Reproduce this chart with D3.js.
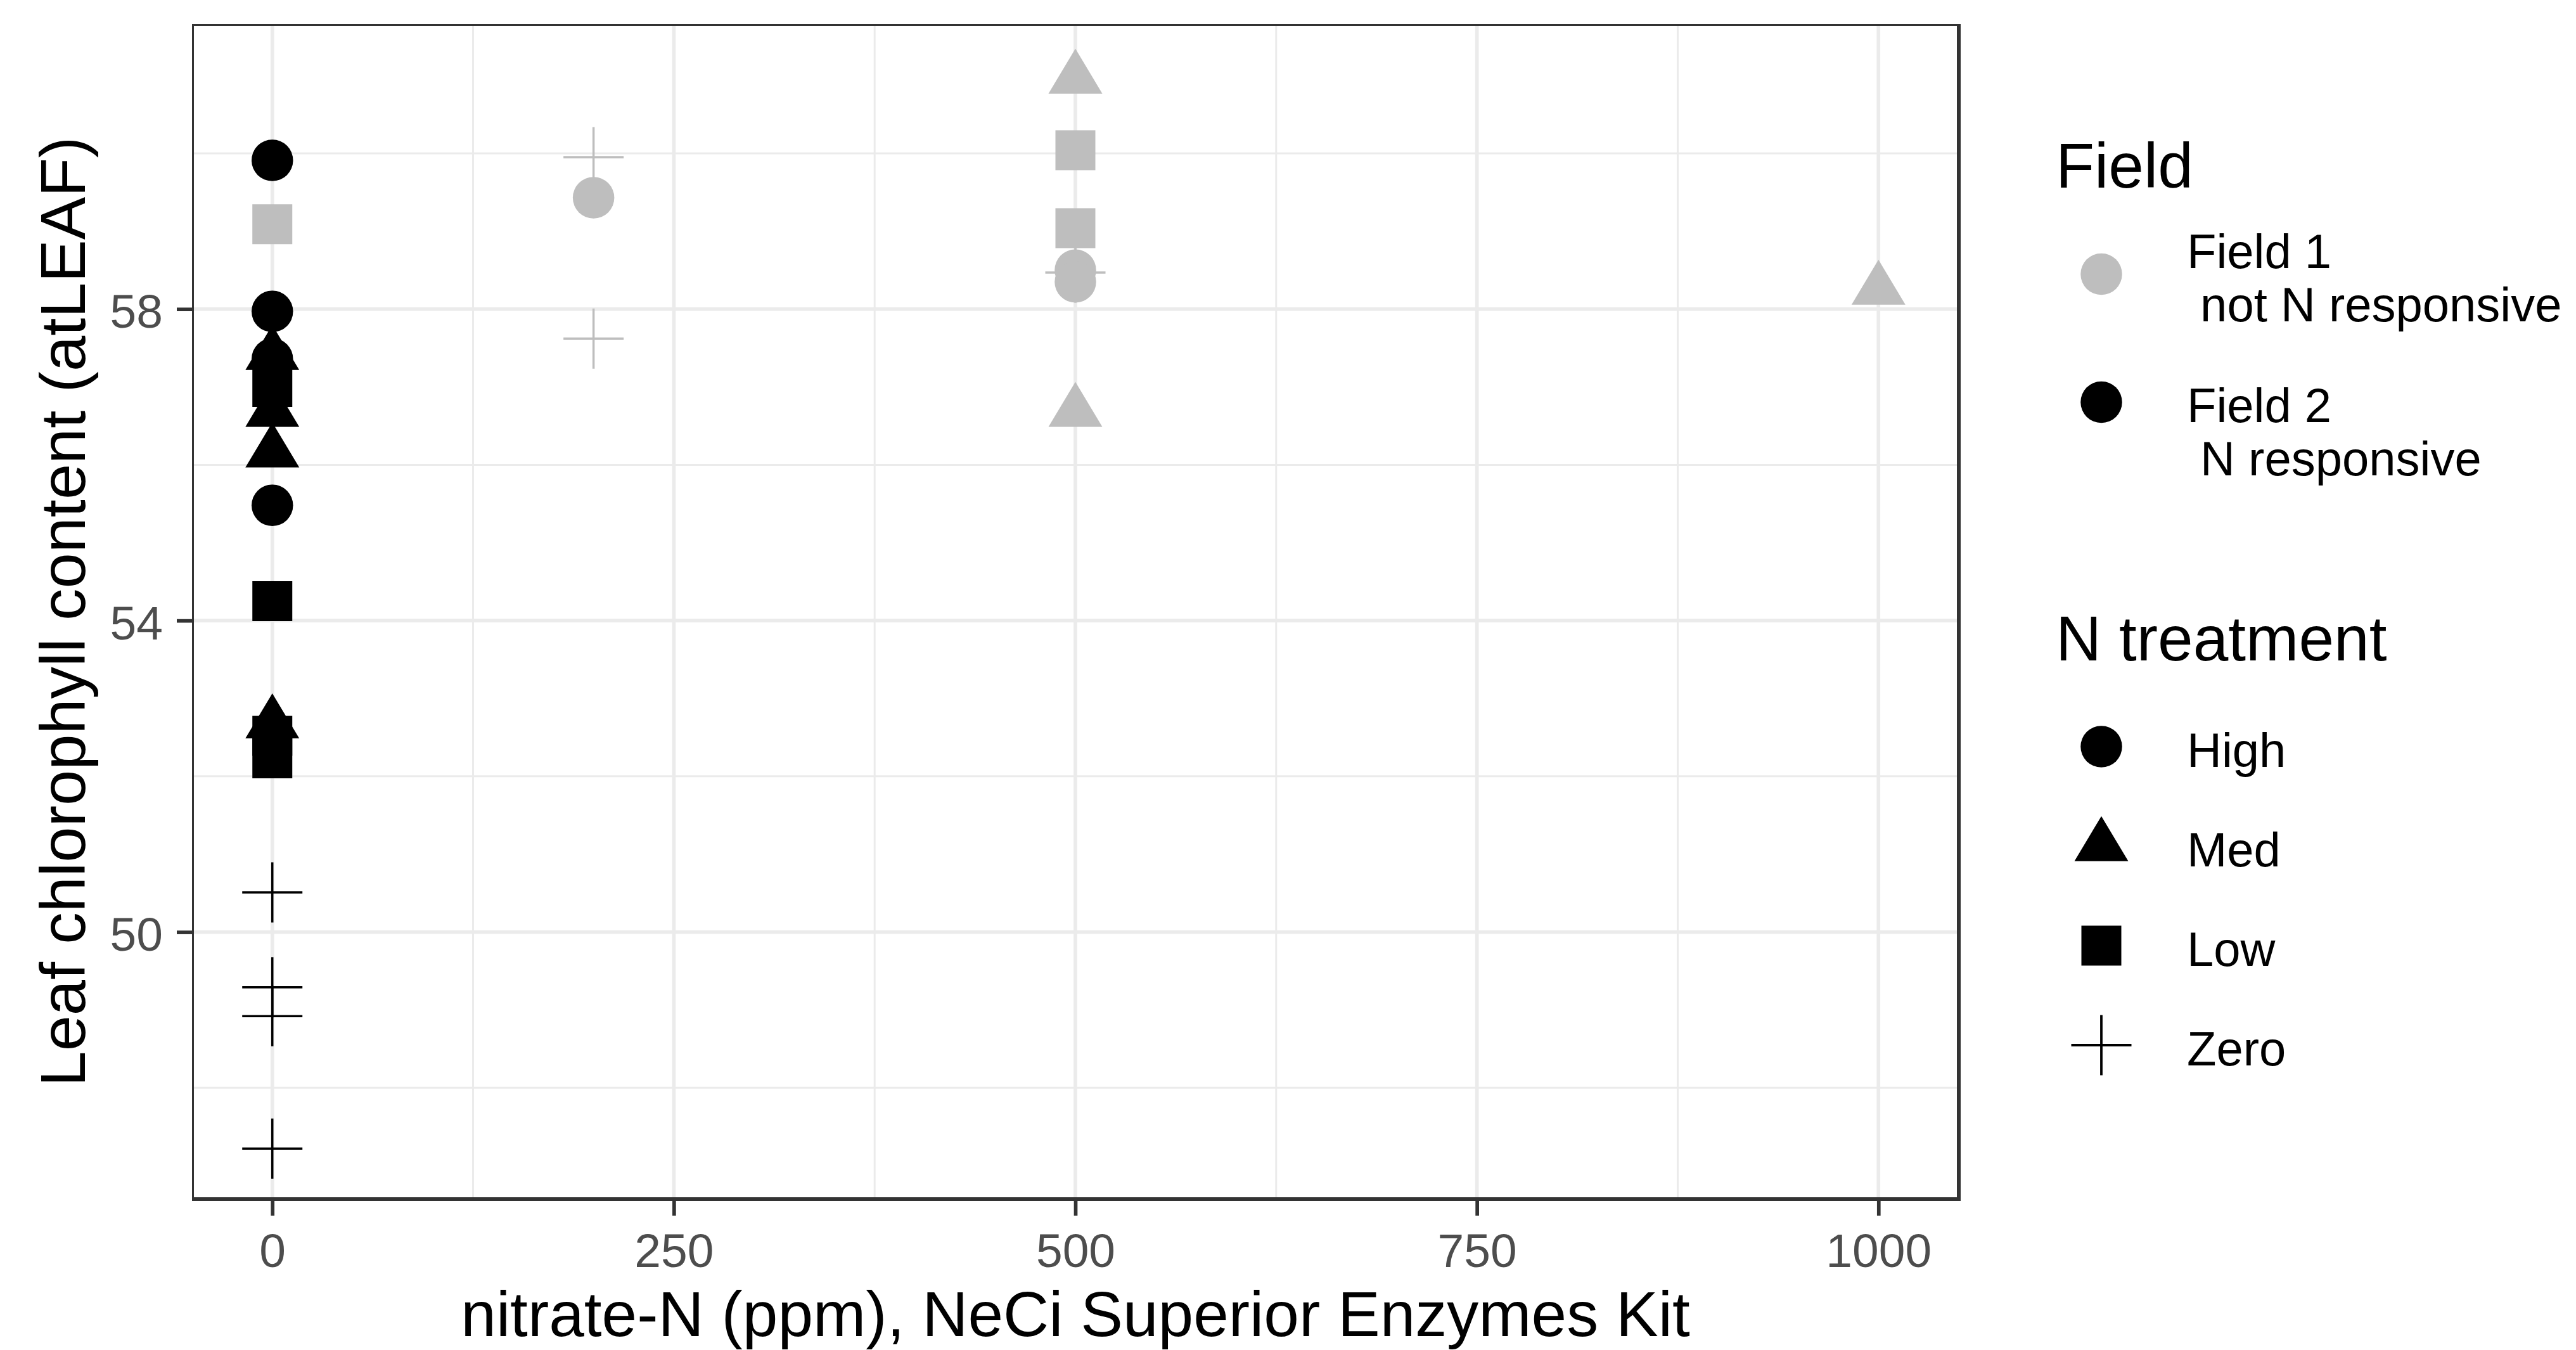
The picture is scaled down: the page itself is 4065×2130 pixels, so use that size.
<!DOCTYPE html>
<html><head><meta charset="utf-8">
<script src="https://cdn.jsdelivr.net/npm/d3@7"></script>
<style>
html,body{margin:0;padding:0;background:#fff;}
svg{display:block;}
text{font-family:"Liberation Sans",Arial,sans-serif;}
</style>
</head><body>
<svg id="chart" width="4065" height="2130"></svg>
<script>
// ---------------- DATA ----------------
const fieldNames = ["Field 1", "Field 2"];
const fieldLabels = [["Field 1", " not N responsive"], ["Field 2", " N responsive"]];
const treatments = ["High", "Med", "Low", "Zero"];
const xTicks = [0, 250, 500, 750, 1000];
const xMinor = [125, 375, 625, 875];
const yTicks = [50, 54, 58];
const yMinor = [48, 52, 56, 60];

// Field 1 (not N responsive)
const f1Nitrate = [0, 200, 200, 200, 500, 500, 500, 500, 500, 500, 500, 1000];
const f1Chl     = [59.09, 59.95, 57.62, 59.43, 58.47, 60.96, 56.68, 60.04, 59.04, 58.50, 58.35, 58.25];
const f1Trt     = ["Low", "Zero", "Zero", "High", "Zero", "Med", "Med", "Low", "Low", "High", "High", "Med"];

// Field 2 (N responsive)
const f2Nitrate = [0, 0, 0, 0, 0, 0, 0, 0, 0, 0, 0, 0, 0, 0, 0, 0];
const f2Chl     = [59.91, 57.97, 57.36, 55.48, 57.41, 56.68, 56.16, 52.68, 57.00, 54.25, 52.52, 52.23, 50.51, 49.29, 48.92, 47.22];
const f2Trt     = ["High", "High", "High", "High", "Med", "Med", "Med", "Med", "Low", "Low", "Low", "Low", "Zero", "Zero", "Zero", "Zero"];

// ---------------- BUILD ----------------
const points = [];
f1Nitrate.forEach((v, i) => points.push({x: v, y: f1Chl[i], trt: f1Trt[i], field: "Field 1"}));
f2Nitrate.forEach((v, i) => points.push({x: v, y: f2Chl[i], trt: f2Trt[i], field: "Field 2"}));

const P = {left: 303, right: 3091, top: 38, bottom: 1892};
const svg = d3.select("#chart");

const x = d3.scaleLinear().domain([-50, 1050]).range([P.left, P.right]);
const y = d3.scaleLinear().domain([46.57, 61.66]).range([P.bottom, P.top]);
const color = d3.scaleOrdinal().domain(fieldNames).range(["#BEBEBE", "#000000"]);

// custom symbol types
const symCircle = {draw(c){ const r = 32.75; c.moveTo(r,0); c.arc(0,0,r,0,2*Math.PI); c.closePath(); }};
const symSquare = {draw(c){ const s = 31.5; c.rect(-s,-s,2*s,2*s); }};
const symTri = {draw(c){ const w = 42.5, h = 71; c.moveTo(0,-2*h/3); c.lineTo(w,h/3); c.lineTo(-w,h/3); c.closePath(); }};
const symPlus = {draw(c){ const a = 47.5; c.moveTo(-a,0); c.lineTo(a,0); c.moveTo(0,-a); c.lineTo(0,a); }};
const shape = d3.scaleOrdinal().domain(treatments).range([symCircle, symTri, symSquare, symPlus]);
const sym = d3.symbol().size(1);

// grid
const grid = svg.append("g");
grid.selectAll(".ymin").data(yMinor).join("line")
  .attr("x1", P.left).attr("x2", P.right).attr("y1", d => y(d)).attr("y2", d => y(d))
  .attr("stroke", "#EBEBEB").attr("stroke-width", 3);
grid.selectAll(".xmin").data(xMinor).join("line")
  .attr("y1", P.top).attr("y2", P.bottom).attr("x1", d => x(d)).attr("x2", d => x(d))
  .attr("stroke", "#EBEBEB").attr("stroke-width", 3);
grid.selectAll(".ymaj").data(yTicks).join("line")
  .attr("x1", P.left).attr("x2", P.right).attr("y1", d => y(d)).attr("y2", d => y(d))
  .attr("stroke", "#EBEBEB").attr("stroke-width", 5.7);
grid.selectAll(".xmaj").data(xTicks).join("line")
  .attr("y1", P.top).attr("y2", P.bottom).attr("x1", d => x(d)).attr("x2", d => x(d))
  .attr("stroke", "#EBEBEB").attr("stroke-width", 5.7);

// points
svg.append("g").selectAll("path").data(points).join("path")
  .attr("transform", d => `translate(${x(d.x)},${y(d.y)})`)
  .attr("d", d => sym.type(shape(d.trt))())
  .attr("fill", d => d.trt === "Zero" ? "none" : color(d.field))
  .attr("stroke", d => d.trt === "Zero" ? color(d.field) : "none")
  .attr("stroke-width", 3.5);

// panel border
const bc = "#333333";
svg.append("rect").attr("x", P.left).attr("y", P.top).attr("width", 3).attr("height", P.bottom - P.top + 3).attr("fill", bc);
svg.append("rect").attr("x", P.left).attr("y", P.top).attr("width", P.right - P.left + 3).attr("height", 3).attr("fill", bc);
svg.append("rect").attr("x", P.right - 3).attr("y", P.top).attr("width", 6).attr("height", P.bottom - P.top + 3).attr("fill", bc);
svg.append("rect").attr("x", P.left).attr("y", P.bottom - 3).attr("width", P.right - P.left + 3).attr("height", 6).attr("fill", bc);

// axes
const xAxis = d3.axisBottom(x).tickValues(xTicks).tickFormat(d3.format("d")).tickSize(26).tickPadding(0);
const gx = svg.append("g").attr("transform", `translate(0,${P.bottom})`).call(xAxis);
gx.select(".domain").remove();
gx.selectAll(".tick line").attr("stroke", bc).attr("stroke-width", 5.7);
gx.selectAll(".tick text").attr("fill", "#4D4D4D").attr("font-size", 75)
  .attr("font-family", '"Liberation Sans",Arial,sans-serif').attr("dy", null).attr("y", 107);

const yAxis = d3.axisLeft(y).tickValues(yTicks).tickFormat(d3.format("d")).tickSize(26).tickPadding(0);
const gy = svg.append("g").attr("transform", `translate(${P.left + 2},0)`).call(yAxis);
gy.select(".domain").remove();
gy.selectAll(".tick line").attr("stroke", bc).attr("stroke-width", 5.7);
gy.selectAll(".tick text").attr("fill", "#4D4D4D").attr("font-size", 75)
  .attr("font-family", '"Liberation Sans",Arial,sans-serif').attr("dy", null).attr("x", -48).attr("y", 29);

// axis titles
svg.append("text").attr("x", (P.left + P.right) / 2).attr("y", 2108)
  .attr("text-anchor", "middle").attr("font-size", 100).attr("fill", "#000")
  .text("nitrate-N (ppm), NeCi Superior Enzymes Kit");
svg.append("text").attr("transform", `translate(134,${(P.top + P.bottom) / 2}) rotate(-90)`)
  .attr("text-anchor", "middle").attr("font-size", 101).attr("fill", "#000")
  .text("Leaf chlorophyll content (atLEAF)");

// legend: Field
const lg = svg.append("g");
lg.append("text").attr("x", 3244).attr("y", 296).attr("font-size", 100).text("Field");
const fieldKeyY = [432.5, 634.5];
const fieldTextY = [422.5, 666];
fieldNames.forEach((f, i) => {
  lg.append("path").attr("transform", `translate(3316,${fieldKeyY[i]})`)
    .attr("d", sym.type(symCircle)()).attr("fill", color(f));
  const t = lg.append("text").attr("font-size", 76).attr("fill", "#000")
    .attr("xml:space", "preserve").style("white-space", "pre");
  fieldLabels[i].forEach((line, j) => {
    t.append("tspan").attr("x", 3451).attr("y", fieldTextY[i] + j * 84).text(line);
  });
});

// legend: N treatment
lg.append("text").attr("x", 3244).attr("y", 1042).attr("font-size", 100).text("N treatment");
treatments.forEach((tr, i) => {
  const ky = 1178 + i * 157;
  lg.append("path").attr("transform", `translate(3316,${ky})`)
    .attr("d", sym.type(shape(tr))())
    .attr("fill", tr === "Zero" ? "none" : "#000")
    .attr("stroke", tr === "Zero" ? "#000" : "none").attr("stroke-width", 3.8);
  lg.append("text").attr("x", 3451).attr("y", ky + 32).attr("font-size", 76).text(tr);
});
</script>
</body></html>
